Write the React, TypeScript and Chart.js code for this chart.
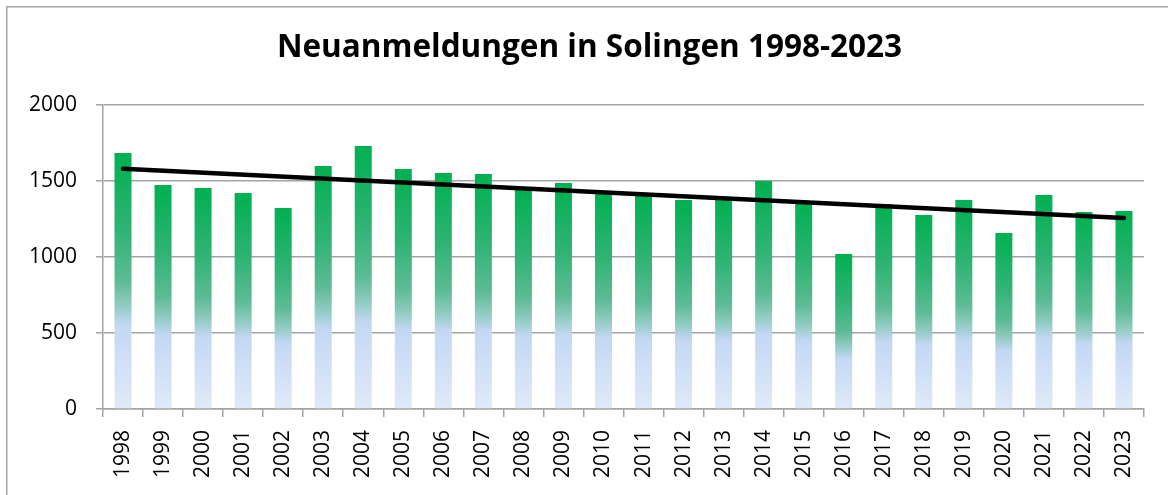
import React, { useEffect, useRef } from "react";
import { Chart, registerables } from "chart.js";

Chart.register(...registerables);

const years: string[] = [
  "1998", "1999", "2000", "2001", "2002", "2003", "2004", "2005", "2006", "2007",
  "2008", "2009", "2010", "2011", "2012", "2013", "2014", "2015", "2016", "2017",
  "2018", "2019", "2020", "2021", "2022", "2023",
];

const registrations: number[] = [
  1684, 1474, 1454, 1421, 1322, 1599, 1730, 1579, 1553, 1546,
  1450, 1487, 1430, 1405, 1375, 1380, 1500, 1365, 1020, 1349,
  1276, 1375, 1158, 1408, 1296, 1303,
];

// linear trend line end points
const trendStart = 1580;
const trendEnd = 1257;

const yTicks: number[] = [0, 500, 1000, 1500, 2000];

const titleText = "Neuanmeldungen in Solingen 1998-2023";

const GRID = "#a3a3a3";
const FONT = "'Open Sans', 'Liberation Sans', sans-serif";

export default function App() {
  const ref = useRef<HTMLCanvasElement | null>(null);

  useEffect(() => {
    const canvas = ref.current;
    if (!canvas) return;

    const trendData: (number | null)[] = years.map((_, i) =>
      i === 0 ? trendStart : i === years.length - 1 ? trendEnd : null
    );

    const framePlugin = {
      id: "frame",
      beforeDraw(chart: any) {
        const ctx = chart.ctx;
        ctx.save();
        ctx.fillStyle = "#ffffff";
        ctx.fillRect(0, 0, chart.width, chart.height);
        ctx.strokeStyle = GRID;
        ctx.lineWidth = 1.5;
        ctx.beginPath();
        ctx.moveTo(6.75, chart.height + 5);
        ctx.lineTo(6.75, 6.75);
        ctx.lineTo(chart.width + 5, 6.75);
        ctx.stroke();
        ctx.restore();
      },
      afterDraw(chart: any) {
        const ctx = chart.ctx;
        ctx.save();
        ctx.fillStyle = "#000000";
        ctx.font = `bold 31.5px ${FONT}`;
        ctx.textAlign = "center";
        ctx.textBaseline = "middle";
        ctx.fillText(titleText, 589.5, 48);
        ctx.restore();
      },
    };

    const barColor = (c: any) => {
      const chart = c.chart;
      const ys = chart.scales ? chart.scales.y : null;
      if (!ys || typeof c.raw !== "number") return "#00B050";
      const top = ys.getPixelForValue(c.raw);
      const bottom = ys.getPixelForValue(0);
      if (!isFinite(top) || !isFinite(bottom) || Math.abs(bottom - top) < 1) return "#00B050";
      const g = chart.ctx.createLinearGradient(0, top, 0, bottom);
      g.addColorStop(0, "#00B050");
      g.addColorStop(0.3, "#2fb374");
      g.addColorStop(0.5, "#5dbb95");
      g.addColorStop(0.6, "#93ccc4");
      g.addColorStop(0.67, "#c3d7f4");
      g.addColorStop(1, "#e0eaf8");
      return g;
    };

    const chart = new Chart(canvas, {
      type: "bar",
      data: {
        labels: years,
        datasets: [
          {
            type: "line",
            label: "Trend",
            data: trendData,
            spanGaps: true,
            borderColor: "#000000",
            borderWidth: 4.5,
            borderCapStyle: "round",
            pointRadius: 0,
            pointHoverRadius: 0,
            fill: false,
            order: 0,
          } as any,
          {
            type: "bar",
            label: "Neuanmeldungen",
            data: registrations,
            backgroundColor: barColor as any,
            borderWidth: 0,
            categoryPercentage: 1,
            barPercentage: 0.425,
            order: 1,
          } as any,
        ],
      },
      options: {
        responsive: false,
        animation: false,
        layout: { padding: { left: 0, right: 24, top: 105, bottom: 0 } },
        plugins: {
          legend: { display: false },
          tooltip: { enabled: false },
          title: { display: false },
        },
        scales: {
          x: {
            offset: true,
            grid: {
              display: true,
              drawOnChartArea: false,
              drawTicks: true,
              tickLength: 8,
              color: GRID,
              lineWidth: 1.5,
              offset: true,
            },
            border: { display: true, color: GRID, width: 1.5 },
            ticks: {
              color: "#000000",
              font: { family: FONT, size: 21 },
              minRotation: 90,
              maxRotation: 90,
              autoSkip: false,
              padding: 13,
            },
            afterFit: (scale: any) => {
              scale.height = 86;
            },
          },
          y: {
            min: 0,
            max: 2000,
            afterBuildTicks: (scale: any) => {
              scale.ticks = yTicks.map((v) => ({ value: v }));
            },
            grid: {
              color: GRID,
              lineWidth: 1.5,
              tickLength: 7,
              drawTicks: true,
            },
            border: { display: true, color: GRID, width: 1.5 },
            ticks: {
              color: "#000000",
              font: { family: FONT, size: 21 },
              padding: 19,
              callback: (v: any) => String(v),
            },
            afterFit: (scale: any) => {
              scale.width = 103;
            },
          },
        },
      },
      plugins: [framePlugin],
    });

    return () => {
      chart.destroy();
    };
  }, []);

  return (
    <div style={{ position: "fixed", left: 0, top: 0, width: 1168, height: 495, background: "#fff" }}>
      <canvas ref={ref} width={1168} height={495} style={{ display: "block" }} />
    </div>
  );
}
